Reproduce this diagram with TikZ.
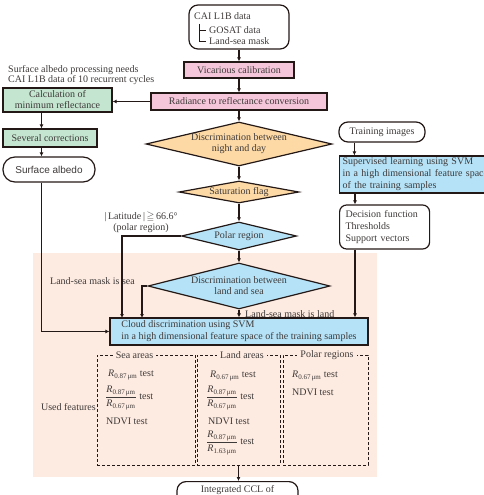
\documentclass[tikz,border=0pt]{standalone}
\usepackage{fontspec}
\usepackage{amssymb}
\setmainfont{Liberation Serif}
\setsansfont{Liberation Sans}
\usetikzlibrary{shapes.geometric,arrows.meta}
\definecolor{linec}{HTML}{231815}
\definecolor{textc}{HTML}{3E3A39}
\definecolor{pinkc}{HTML}{F5C6DA}
\definecolor{greenc}{HTML}{C4E5CF}
\definecolor{orangec}{HTML}{FDD9A6}
\definecolor{bluec}{HTML}{B5E2F7}
\definecolor{peachc}{HTML}{FDEAE0}
\newcommand{\rval}[1]{\textit{R}\textsubscript{#1\,μm}}
\newcommand{\rfrac}[2]{$\displaystyle\frac{\mbox{\rval{#1}}}{\mbox{\rval{#2}}}$}

\begin{document}
\begin{tikzpicture}[x=1pt, y=-1pt, font=\fontsize{10}{12}\selectfont, text=textc,
    box/.style={draw=linec, line width=1.2pt, inner sep=2pt},
    rbox/.style={box, rounded corners=7pt},
    dia/.style={diamond, draw=linec, line width=1.2pt, inner sep=0pt},
    dbox/.style={draw=linec, line width=0.9pt, dash pattern=on 3pt off 2pt},
    arr/.style={draw=linec, line width=1.4pt, -{Latex[length=4pt,width=4pt]}},
    ttl/.style={fill=peachc, inner xsep=3pt, inner ysep=1pt},
    item/.style={anchor=west, inner sep=1pt}]
    \useasboundingbox (0,0) rectangle (484,495);
    \clip (0,0) rectangle (484,495);
    \fill[peachc] (33,253) rectangle (377,477);

    % 入力データ
    \node[rbox, rounded corners=9pt, minimum width=100pt, minimum height=44pt] (cai) at (239,27) {};
    \node[item] (cait) at (193,16) {CAI L1B data};
    \node[item] (gosat) at (208,30) {GOSAT data};
    \node[item] (lsm) at (208,41) {Land-sea mask};
    \draw[linec, line width=0.9pt] (199,24) |- ([xshift=-2pt]lsm.west);
    \draw[linec, line width=0.9pt] (199,30) -- ([xshift=-2pt]gosat.west);

    \node[box, fill=pinkc, minimum width=110pt, minimum height=16pt] (vic) at (239,70) {Vicarious calibration};
    \node[box, fill=pinkc, minimum width=176pt, minimum height=17pt] (rad) at (239,101.5) {Radiance to reflectance conversion};

    \node[dia, fill=orangec, minimum width=186pt, minimum height=44pt] (dnd) at (239,144) {};
    \node[align=center, font=\fontsize{10}{11}\selectfont] (dndt) at (dnd) {Discrimination between\\night and day};
    \node[dia, fill=orangec, minimum width=120pt, minimum height=22pt] (sat) at (239,192) {};
    \node (satt) at (sat) {Saturation flag};
    \node[dia, fill=bluec, minimum width=115pt, minimum height=28pt] (polar) at (239,236) {};
    \node (polart) at (polar) {Polar region};
    \node[dia, fill=bluec, minimum width=182pt, minimum height=46pt] (dls) at (239,286) {};
    \node[align=center, font=\fontsize{10}{11}\selectfont] (dlst) at (dls) {Discrimination between\\land and sea};

    \node[box, fill=bluec, minimum width=258pt, minimum height=27pt, align=left] (cloud) at (239,331.5)
        {Cloud discrimination using SVM\\in a high dimensional feature space of the training samples};

    % 地表面アルベド
    \node[anchor=west, align=left, inner sep=0pt, font=\fontsize{10}{10}\selectfont] (note) at (8,75.5)
        {Surface albedo processing needs\\CAI L1B data of 10 recurrent cycles};
    \node[box, fill=greenc, minimum width=109pt, minimum height=24pt, align=center, font=\fontsize{10}{11}\selectfont] (calc) at (57.5,100)
        {Calculation of\\minimum reflectance};
    \node[box, fill=greenc, minimum width=94pt, minimum height=18pt] (sev) at (50,138) {Several corrections};
    \node[rbox, rounded corners=12pt, minimum width=92pt, minimum height=25pt, font=\sffamily\fontsize{10}{12}\selectfont] (alb) at (49,169.5) {Surface albedo};

    % 教師データ
    \node[rbox, rounded corners=9pt, minimum width=86pt, minimum height=20pt] (train) at (382,132) {Training images};
    \node[box, fill=bluec, anchor=west, align=left, text width=150pt, inner xsep=3pt, minimum height=35pt] (sup) at (339,174.5)
        {Supervised learning using SVM\\in a high dimensional feature space\\of the training samples};
    \node[rbox, anchor=west, align=left, text width=78pt, inner xsep=6pt, minimum height=44pt] (dec) at (339,227)
        {Decision function\\Thresholds\\Support vectors};

    % ラベル
    \node[align=center, font=\fontsize{10}{11}\selectfont] (lat) at (141,222.5) {|\,Latitude\,|\,$\geqq$\,66.6°\\(polar region)};
    \node (seal) at (92.5,281) {Land-sea mask is sea};
    \node[item] (landl) at (244,314) {Land-sea mask is land};

    % 使用する特徴量
    \node[dbox, minimum width=98pt, minimum height=110pt] (sea) at (146,410) {};
    \node[dbox, minimum width=83pt, minimum height=110pt] (land) at (238.5,410) {};
    \node[dbox, minimum width=85pt, minimum height=110pt] (polr) at (325.5,410) {};
    \node[ttl] (seat) at (134.5,355.5) {Sea areas};
    \node[ttl] (landt) at (242,355.5) {Land areas};
    \node[ttl] (polrt) at (327,355.5) {Polar regions};
    \node[anchor=east, inner sep=1pt] (used) at (97,407) {Used features};

    \node[item] (s1) at (107,375) {\rval{0.87} test};
    \node[item] (s2) at (104,398) {\rfrac{0.87}{0.67} test};
    \node[item] (s3) at (105,421) {NDVI test};
    \node[item] (l1) at (209,376) {\rval{0.67} test};
    \node[item] (l2) at (205,398) {\rfrac{0.87}{0.67} test};
    \node[item] (l3) at (207,421) {NDVI test};
    \node[item] (l4) at (205,443) {\rfrac{0.87}{1.63} test};
    \node[item] (p1) at (291,376) {\rval{0.67} test};
    \node[item] (p2) at (291,392) {NDVI test};

    \node[rbox, rounded corners=9pt, minimum width=121pt, minimum height=30pt, anchor=north] (ccl) at (237.5,481) {};
    \node (cclt) at (237.5,490) {Integrated CCL of};

    \coordinate (ps) at (122,318);
    \coordinate (ls) at (142,318);

    % 矢印を引く
    \draw[arr] (cai) -- (vic);
    \draw[arr] (vic) -- (rad);
    \draw[arr] (rad) -- (dnd);
    \draw[arr] (dnd) -- (sat);
    \draw[arr] (sat) -- (polar);
    \draw[arr] (polar) -- (dls);
    \draw[arr] (dls) -- (cloud);
    \draw[arr] (polar.west) -| (ps);
    \draw[arr] (dls.west) -| (ls);
    \draw[arr] (rad.west) -- (calc.east |- rad.west);
    \draw[arr] ([xshift=-16pt]calc.south) -- ([xshift=-16pt]calc.south |- sev.north);
    \draw[arr] ([xshift=-8.5pt]sev.south) -- ([xshift=-8.5pt]sev.south |- alb.north);
    \draw[arr] ([xshift=-7.5pt]alb.south) |- (cloud.west);
    \draw[arr] ([xshift=16pt]train.south west) -- ([xshift=16pt]train.south west |- sup.north);
    \draw[arr] ([xshift=16pt]sup.south west) -- ([xshift=16pt]sup.south west |- dec.north);
    \draw[arr] ([xshift=16pt]dec.south west) -- ([xshift=16pt]dec.south west |- cloud.north);
    \draw[arr] (land.south) -- (ccl.north -| land.south);
\end{tikzpicture}
\end{document}
